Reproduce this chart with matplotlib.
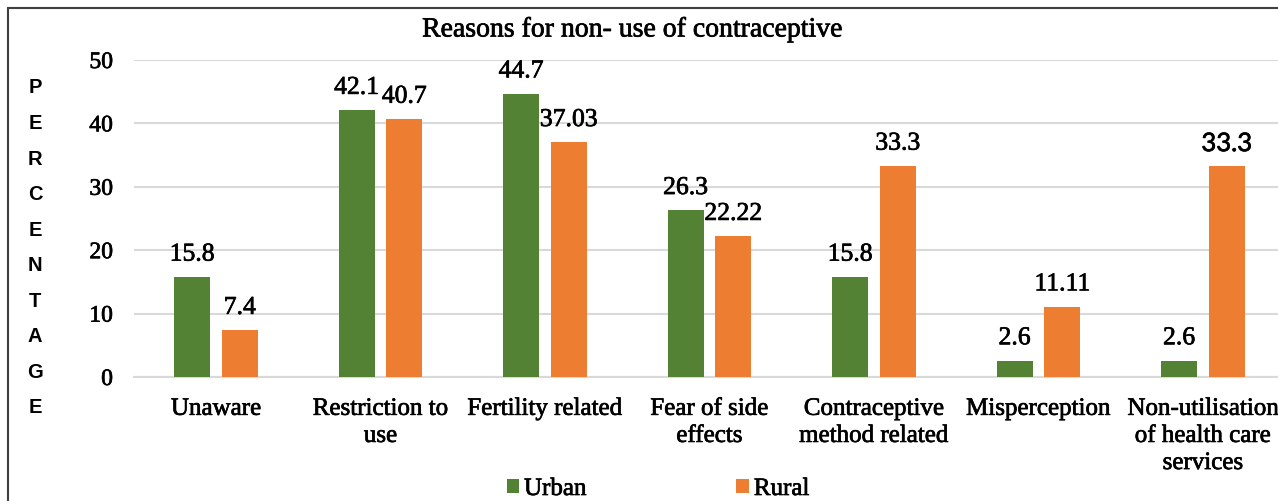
import numpy as np
import matplotlib.pyplot as plt
import matplotlib.patheffects as pe
from matplotlib.patches import Rectangle

# data
categories = ["Unaware", "Restriction to\nuse", "Fertility related", "Fear of side\neffects",
              "Contraceptive\nmethod related", "Misperception", "Non-utilisation\nof health care\nservices"]
urban = [15.8, 42.1, 44.7, 26.3, 15.8, 2.6, 2.6]
rural = [7.4, 40.7, 37.03, 22.22, 33.3, 11.11, 33.3]
urban_labels = ["15.8", "42.1", "44.7", "26.3", "15.8", "2.6", "2.6"]
rural_labels = ["7.4", "40.7", "37.03", "22.22", "33.3", "11.11", "33.3"]
yticks = [0, 10, 20, 30, 40, 50]

GREEN = "#548235"
ORANGE = "#ED7D31"
GRID = "#d9d9d9"
SERIF = ["Liberation Serif", "DejaVu Serif"]
# slight stroke so the text looks as heavy as the (blurry) original
THICK = [pe.withStroke(linewidth=0.5, foreground="black")]

W, H = 1278, 502
fig = plt.figure(figsize=(W / 100, H / 100), dpi=100)

# axes box in pixels (left, bottom from top)
left_px, right_px = 133.75, 1285.25
top_px, bottom_px = 61, 378
ax = fig.add_axes([left_px / W, (H - bottom_px) / H, (right_px - left_px) / W, (bottom_px - top_px) / H])

x = np.arange(len(categories))
bw = 0.22
off = 0.145
b1 = ax.bar(x - off, urban, bw, color=GREEN, label="Urban", zorder=3)
b2 = ax.bar(x + off, rural, bw, color=ORANGE, label="Rural", zorder=3)

for bars, labels in ((b1, urban_labels), (b2, rural_labels)):
    for i, (rect, lab) in enumerate(zip(bars, labels)):
        fam = SERIF
        if i == len(labels) - 1 and bars is b2:
            fam = ["Lato", "DejaVu Sans"]
        ax.annotate(lab, (rect.get_x() + rect.get_width() / 2, rect.get_height()),
                    xytext=(0, 16), textcoords="offset points", ha="center", va="center",
                    fontsize=18.5, family=fam, color="black", zorder=4, path_effects=THICK)

ax.set_xlim(-0.5, len(categories) - 0.5)
ax.set_ylim(0, 50)
ax.set_yticks(yticks)
ax.set_yticklabels([str(t) for t in yticks], family=SERIF, fontsize=17, path_effects=THICK)
ax.set_xticks(x)
ax.set_xticklabels(categories, family=SERIF, fontsize=18, linespacing=1.3, path_effects=THICK)
ax.tick_params(axis="both", length=0)
ax.tick_params(axis="y", pad=15)
ax.tick_params(axis="x", pad=15)
ax.yaxis.grid(True, color=GRID, linewidth=1.5, zorder=0)
ax.set_axisbelow(True)
for s in ("top", "right", "left"):
    ax.spines[s].set_visible(False)
ax.spines["bottom"].set_color(GRID)
ax.spines["bottom"].set_linewidth(1.5)

fig.text(632 / W, (H - 31) / H, "Reasons for non- use of contraceptive", ha="center", va="center",
         family=SERIF, fontsize=20, path_effects=THICK)

# stacked y label letters
word = "PERCENTAGE"
y0, step = 88, (408 - 88) / 9
for k, ch in enumerate(word):
    fig.text(35 / W, (H - (y0 + k * step)) / H, ch, ha="center", va="center",
             family=["Liberation Sans", "DejaVu Sans"], fontweight="bold", fontsize=14.5)

leg = fig.legend(handles=[b1, b2], labels=["Urban", "Rural"], loc="center", bbox_to_anchor=(658 / W, 12 / H),
                 ncol=2, frameon=False, prop={"family": SERIF, "size": 18}, handlelength=0.5, handleheight=0.5,
                 handletextpad=0.2, columnspacing=6.0, borderpad=0)
for t in leg.get_texts():
    t.set_path_effects(THICK)

# outer chart border (only top/left visible in the crop)
fig.patches.append(Rectangle((8 / W, -0.1), 2, (H - 9) / H + 0.1, transform=fig.transFigure,
                             fill=False, edgecolor="#404040", linewidth=1.5))

fig.savefig("out.png", dpi=100)
